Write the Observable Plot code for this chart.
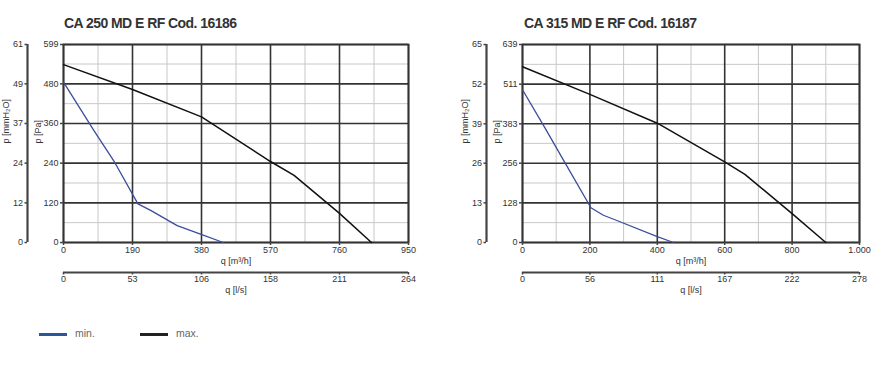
<!DOCTYPE html>
<html>
<head>
<meta charset="utf-8">
<script src="https://cdn.jsdelivr.net/npm/d3@7"></script>
<script src="https://cdn.jsdelivr.net/npm/@observablehq/plot@0.6"></script>
<style>
  body { margin: 0; background: #fff; font-family: "Liberation Sans", Arial, sans-serif; }
  #root { position: relative; width: 886px; height: 377px; overflow: hidden; }
  .panel { position: absolute; top: 0; width: 443px; height: 377px; }
  .title { position: absolute; top: 15px; font-size: 14px; letter-spacing: -0.55px; font-weight: bold; color: #333; white-space: nowrap; }
  .chart { position: absolute; top: 34px; left: 0; }
  .leg-line { position: absolute; height: 3px; width: 28px; }
  .leg-text { position: absolute; font-size: 10.5px; color: #666; }
</style>
</head>
<body>
<div id="root"></div>
<script>
// ---- data ----
const titles = ["CA 250 MD E RF Cod. 16186", "CA 315 MD E RF Cod. 16187"];

// left chart (CA 250)
const qTicksA = [0, 190, 380, 570, 760, 950];
const qLabelsA = ["0", "190", "380", "570", "760", "950"];
const qMinorA = [95, 285, 475, 665, 855];
const lsTicksA = ["0", "53", "106", "158", "211", "264"];
const paTicksA = [0, 120, 240, 360, 480, 599];
const paMinorA = [60, 180, 300, 420, 540];
const mmTicksA = ["0", "12", "24", "37", "49", "61"];
const minA = [[0, 485], [83, 340], [138, 248], [205, 117], [240, 97], [313, 51], [381, 24], [440, 0]];
const maxA = [[0, 538], [190, 463], [380, 380], [570, 245], [635, 203], [760, 88], [848, 0]];

// right chart (CA 315)
const qTicksB = [0, 200, 400, 600, 800, 1000];
const qLabelsB = ["0", "200", "400", "600", "800", "1.000"];
const qMinorB = [100, 300, 500, 700, 900];
const lsTicksB = ["0", "56", "111", "167", "222", "278"];
const paTicksB = [0, 128, 256, 383, 511, 639];
const paMinorB = [64, 192, 320, 447, 575];
const mmTicksB = ["0", "13", "26", "39", "52", "65"];
const minB = [[0, 493], [67, 369], [122, 265], [203, 112], [240, 88], [280, 71], [400, 19], [448, 0]];
const maxB = [[0, 567], [200, 478], [400, 385], [600, 260], [660, 220], [800, 93], [900, 0]];

const seriesNames = ["min.", "max."];
const seriesColors = ["#3a4e9c", "#111111"];
const legendColors = ["#2b579a", "#222222"];

// ---- drawing ----
const FONT = "'Liberation Sans', Arial, sans-serif";
const AX = "#444";

function chart(cfg) {
  const toObj = arr => arr.map(([q, p]) => ({q, p}));
  const lbl = (ticks, labels) => d => labels[ticks.indexOf(d)];
  return Plot.plot({
    width: 443, height: 272,
    marginTop: 10, marginBottom: 64,
    marginLeft: cfg.ml, marginRight: 443 - cfg.ml - cfg.pw,
    x: {domain: [0, cfg.qTicks[cfg.qTicks.length - 1]]},
    y: {domain: [0, cfg.paTicks[cfg.paTicks.length - 1]]},
    style: {fontFamily: FONT, fontSize: "9px", color: "#333", background: "transparent", overflow: "visible"},
    marks: [
      Plot.gridX(cfg.qMinor, {stroke: "#c8c8c8", strokeOpacity: 1, strokeWidth: 1}),
      Plot.gridY(cfg.paMinor, {stroke: "#c8c8c8", strokeOpacity: 1, strokeWidth: 1}),
      Plot.gridX(cfg.qTicks, {stroke: "#333", strokeOpacity: 1, strokeWidth: 1.6}),
      Plot.gridY(cfg.paTicks, {stroke: "#333", strokeOpacity: 1, strokeWidth: 1.6}),
      Plot.frame({stroke: "#333", strokeWidth: 1.8}),
      Plot.line(toObj(cfg.min), {x: "q", y: "p", stroke: seriesColors[0], strokeWidth: 1.3}),
      Plot.line(toObj(cfg.max), {x: "q", y: "p", stroke: seriesColors[1], strokeWidth: 1.5}),
      // Pa axis
      Plot.axisY({ticks: cfg.paTicks, tickFormat: d => String(d), tickSize: 3, tickPadding: 2, label: null, stroke: AX, strokeWidth: 1.5}),
      // mmH2O axis (outer)
      Plot.ruleX([0], {dx: -36, stroke: AX, strokeWidth: 2.2}),
      Plot.axisY({ticks: cfg.paTicks, tickFormat: lbl(cfg.paTicks, cfg.mmTicks), tickSize: 2.5, tickPadding: 2, label: null, dx: -36, stroke: AX, strokeWidth: 1.5}),
      // m3/h axis
      Plot.axisX({ticks: cfg.qTicks, tickFormat: lbl(cfg.qTicks, cfg.qLabels), tickSize: 3, tickPadding: 1, label: null, stroke: AX, strokeWidth: 1.5}),
      // l/s axis (second)
      Plot.ruleY([0], {dy: 30, stroke: AX, strokeWidth: 2.2}),
      Plot.axisX({ticks: cfg.qTicks, tickFormat: lbl(cfg.qTicks, cfg.lsTicks), tickSize: 2.5, tickPadding: 1, label: null, dy: 30, stroke: AX, strokeWidth: 1.5}),
      // axis titles
      Plot.text(["q [m³/h]"], {frameAnchor: "bottom", dy: 21, fill: "#333", fontSize: 9}),
      Plot.text(["q [l/s]"], {frameAnchor: "bottom", dy: 50, fill: "#333", fontSize: 9}),
      Plot.text(["p [Pa]"], {frameAnchor: "left", rotate: -90, dx: -25, fill: "#333", fontSize: 9}),
      Plot.text(["p [mmH₂O]"], {frameAnchor: "left", rotate: -90, dx: -57, fill: "#333", fontSize: 9})
    ]
  });
}

const root = document.getElementById("root");
const cfgs = [
  {ml: 63, pw: 345, titleX: 64, qTicks: qTicksA, qLabels: qLabelsA, qMinor: qMinorA, lsTicks: lsTicksA,
   paTicks: paTicksA, paMinor: paMinorA, mmTicks: mmTicksA, min: minA, max: maxA},
  {ml: 79, pw: 337, titleX: 81, qTicks: qTicksB, qLabels: qLabelsB, qMinor: qMinorB, lsTicks: lsTicksB,
   paTicks: paTicksB, paMinor: paMinorB, mmTicks: mmTicksB, min: minB, max: maxB}
];
cfgs.forEach((cfg, i) => {
  const panel = document.createElement("div");
  panel.className = "panel";
  panel.style.left = (i * 443) + "px";
  const t = document.createElement("div");
  t.className = "title";
  t.style.left = cfg.titleX + "px";
  t.textContent = titles[i];
  panel.appendChild(t);
  const c = document.createElement("div");
  c.className = "chart";
  c.appendChild(chart(cfg));
  panel.appendChild(c);
  root.appendChild(panel);
});

// legend
const legX = [39, 140];
seriesNames.forEach((name, i) => {
  const l = document.createElement("div");
  l.className = "leg-line";
  l.style.left = legX[i] + "px";
  l.style.top = "333px";
  l.style.background = legendColors[i];
  root.appendChild(l);
  const tx = document.createElement("div");
  tx.className = "leg-text";
  tx.style.left = (legX[i] + 36) + "px";
  tx.style.top = "327px";
  tx.textContent = name;
  root.appendChild(tx);
});
</script>
</body>
</html>
